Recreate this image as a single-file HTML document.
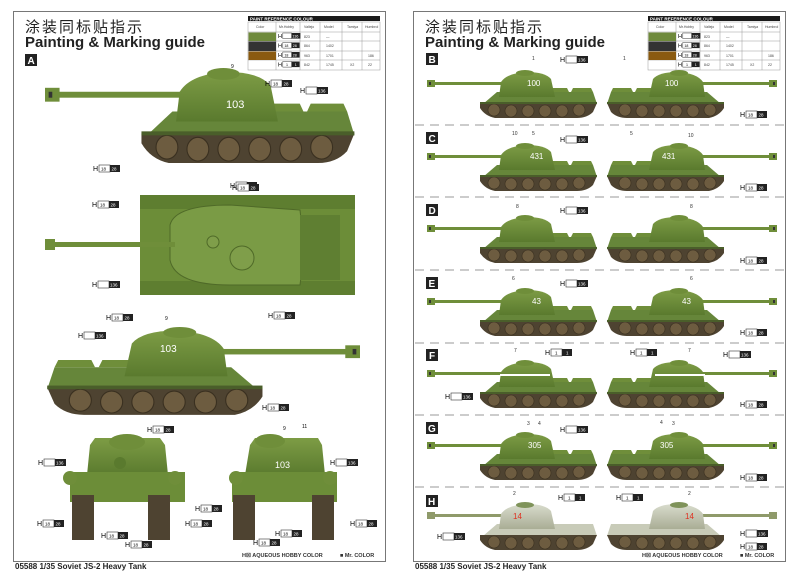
<!DOCTYPE html><html><head><meta charset="utf-8"><style>
html,body{margin:0;padding:0;background:#fff}
svg{display:block}
text{font-family:"Liberation Sans","Noto Sans CJK SC",sans-serif}
</style></head><body>
<svg width="800" height="573" viewBox="0 0 800 573" xmlns="http://www.w3.org/2000/svg">
<defs>
<linearGradient id="tg" x1="0" y1="0" x2="0" y2="1"><stop offset="0" stop-color="#7d9c45"/><stop offset="1" stop-color="#5a7a2e"/></linearGradient>
<linearGradient id="wg" x1="0" y1="0" x2="0" y2="1"><stop offset="0" stop-color="#d9dccd"/><stop offset="1" stop-color="#a9ad95"/></linearGradient>
<g id="tank">
<rect x="0" y="12" width="76" height="3" fill="#6f8e3a"/>
<rect x="0" y="10" width="8" height="7" fill="#6f8e3a"/>
<rect x="2" y="12" width="2" height="3" fill="#333"/>
<path d="M56,34 L70,22 L166,22 L170,34 Z" fill="#66863a"/>
<path d="M110,22 L112,18 L140,18 L142,22 Z M144,22 L146,18 L164,18 L166,22 Z" fill="#6f8e3a"/>
<path d="M72,27 L74,12 Q80,3 100,2 Q118,2 124,9 L128,27 Z" fill="url(#tg)"/>
<ellipse cx="98" cy="3" rx="9" ry="3" fill="#6f8e3a"/>
<path d="M53,33 L170,33 L166,42 Q160,48 150,48 L68,48 Q58,46 53,38 Z" fill="#4e4331"/>
<g fill="#6d5c40" stroke="#3a3020" stroke-width=".6"><circle cx="67" cy="40" r="6"/><circle cx="84" cy="41" r="6"/><circle cx="101" cy="41" r="6"/><circle cx="118" cy="41" r="6"/><circle cx="135" cy="41" r="6"/><circle cx="152" cy="40" r="6"/></g>
<rect x="53" y="32" width="117" height="2" fill="#4a5e2a"/>
</g>
<g id="wtank">
<rect x="0" y="12" width="76" height="3" fill="#8f9a6a"/>
<rect x="0" y="10" width="8" height="7" fill="#8f9a6a"/>
<path d="M56,34 L70,22 L166,22 L170,34 Z" fill="#c8cbb8"/>
<path d="M72,27 L74,12 Q80,3 100,2 Q118,2 124,9 L128,27 Z" fill="url(#wg)"/>
<ellipse cx="98" cy="3" rx="9" ry="3" fill="#7f935a"/>
<path d="M53,33 L170,33 L166,42 Q160,48 150,48 L68,48 Q58,46 53,38 Z" fill="#4e4331"/>
<g fill="#6d5c40" stroke="#3a3020" stroke-width=".6"><circle cx="67" cy="40" r="6"/><circle cx="84" cy="41" r="6"/><circle cx="101" cy="41" r="6"/><circle cx="118" cy="41" r="6"/><circle cx="135" cy="41" r="6"/><circle cx="152" cy="40" r="6"/></g>
</g>
<g id="c1828"><text x="0" y="6" font-size="7">H</text><rect x="6" y="0" width="11" height="7" fill="#fff" stroke="#333" stroke-width=".6"/><text x="8" y="5.5" font-size="4.5">18</text><rect x="17" y="0" width="10" height="7" fill="#222"/><text x="18.5" y="5.5" font-size="4.5" fill="#fff">28</text></g>
<g id="c136"><text x="0" y="6" font-size="7">H</text><rect x="6" y="0" width="11" height="7" fill="#fff" stroke="#333" stroke-width=".6"/><rect x="17" y="0" width="11" height="7" fill="#222"/><text x="18" y="5.5" font-size="4.5" fill="#fff">136</text></g>
<g id="c11"><text x="0" y="6" font-size="7">H</text><rect x="6" y="0" width="11" height="7" fill="#fff" stroke="#333" stroke-width=".6"/><text x="10" y="5.5" font-size="4.5">1</text><rect x="17" y="0" width="10" height="7" fill="#222"/><text x="21" y="5.5" font-size="4.5" fill="#fff">1</text></g>
<g id="ptable">
<rect x="0" y="0" width="132" height="5" fill="#1a1a1a"/>
<text x="2" y="4.3" font-size="4.5" fill="#fff" font-weight="bold">PAINT REFERENCE COLOUR</text>
<g stroke="#999" stroke-width=".5" fill="none"><rect x="0" y="6" width="132" height="48"/><line x1="28" y1="6" x2="28" y2="54"/><line x1="52" y1="6" x2="52" y2="54"/><line x1="72" y1="6" x2="72" y2="54"/><line x1="94" y1="6" x2="94" y2="54"/><line x1="114" y1="6" x2="114" y2="54"/><line x1="0" y1="16" x2="132" y2="16"/><line x1="0" y1="25" x2="132" y2="25"/><line x1="0" y1="35" x2="132" y2="35"/><line x1="0" y1="44" x2="132" y2="44"/></g>
<rect x="0.5" y="16.5" width="27.5" height="8.5" fill="#6f8a3c"/><rect x="0.5" y="25.5" width="27.5" height="9.5" fill="#333"/><rect x="0.5" y="35.5" width="27.5" height="8.5" fill="#8a5a10"/>
<g font-size="3.5" fill="#444"><text x="8" y="12">Color</text><text x="31" y="12">Mr.Hobby</text><text x="56" y="12">Vallejo</text><text x="76" y="12">Model</text><text x="99" y="12">Tamiya</text><text x="117" y="12">Humbrol</text>
<text x="56" y="22">823</text><text x="56" y="31">864</text><text x="56" y="41">963</text><text x="56" y="50">842</text>
<text x="78" y="22">—</text><text x="78" y="31">1402</text><text x="78" y="41">1701</text><text x="78" y="50">1745</text>
<text x="102" y="50">X2</text><text x="120" y="41">186</text><text x="120" y="50">22</text></g>
<use href="#c136" transform="translate(30,17) scale(.8)"/><use href="#c1828" transform="translate(30,26.5) scale(.8)"/><use href="#c1828" transform="translate(30,36) scale(.8)"/><use href="#c11" transform="translate(30,45.5) scale(.8)"/>
</g>
</defs>

<rect x="13.5" y="11.5" width="372" height="550" fill="none" stroke="#777" stroke-width="1"/>
<rect x="413.5" y="11.5" width="372" height="550" fill="none" stroke="#777" stroke-width="1"/>

<text x="25" y="32" font-size="15" fill="#222" font-family="Noto Sans CJK SC,sans-serif" letter-spacing="2">涂装同标贴指示</text>
<text x="25" y="47" font-size="15" font-weight="bold" fill="#222">Painting &amp; Marking guide</text>
<text x="425" y="32" font-size="15" fill="#222" font-family="Noto Sans CJK SC,sans-serif" letter-spacing="2">涂装同标贴指示</text>
<text x="425" y="47" font-size="15" font-weight="bold" fill="#222">Painting &amp; Marking guide</text>
<use href="#ptable" transform="translate(248,16)"/>
<use href="#ptable" transform="translate(648,16)"/>

<rect x="25" y="54" width="12" height="12" fill="#222"/><text x="27.5" y="64" font-size="10" fill="#fff" font-weight="bold">A</text>
<use href="#tank" transform="translate(45,68) scale(1.82,1.98)"/>
<text x="226" y="108" font-size="11" fill="#fff">103</text>
<text x="231" y="68" font-size="5">9</text>
<use href="#c1828" transform="translate(265,80)"/><use href="#c136" transform="translate(300,87)"/>
<use href="#c1828" transform="translate(93,165)"/><use href="#c1828" transform="translate(230,182)"/>
<!-- top view -->
<rect x="140" y="195" width="215" height="100" fill="#6c8d38"/>
<rect x="140" y="195" width="215" height="14" fill="#5e7e30"/><rect x="140" y="281" width="215" height="14" fill="#5e7e30"/>
<path d="M170,225 Q175,205 230,205 L300,210 Q305,250 300,285 L230,285 Q175,285 170,260 Z" fill="#7a9b45" stroke="#4f6a28" stroke-width="1"/>
<rect x="300" y="215" width="40" height="65" fill="#5f7f32"/>
<circle cx="242" cy="258" r="12" fill="#7f9e4a" stroke="#4f6a28"/><circle cx="213" cy="242" r="6" fill="#7f9e4a" stroke="#4f6a28"/>
<rect x="45" y="242" width="130" height="5" fill="#6f8e3a"/><rect x="45" y="239" width="10" height="11" fill="#6f8e3a"/>
<use href="#c1828" transform="translate(92,201)"/><use href="#c136" transform="translate(92,281)"/>
<use href="#c1828" transform="translate(232,184)"/><use href="#c1828" transform="translate(268,312)"/>
<!-- side view right -->
<use href="#tank" transform="translate(360,327) scale(-1.84,1.83)"/>
<text x="160" y="352" font-size="10" fill="#fff">103</text><text x="165" y="320" font-size="5">9</text>
<use href="#c1828" transform="translate(106,314)"/><use href="#c136" transform="translate(78,332)"/>
<use href="#c1828" transform="translate(262,404)"/><use href="#c1828" transform="translate(147,426)"/>
<!-- front view -->
<path d="M90,445 L95,438 L160,438 L165,445 L168,475 L87,475 Z" fill="url(#tg)"/>
<ellipse cx="127" cy="442" rx="18" ry="8" fill="#6f8e3a"/>
<rect x="70" y="472" width="115" height="30" fill="#6c8d38"/>
<circle cx="70" cy="478" r="7" fill="#6f8e3a"/><circle cx="175" cy="478" r="7" fill="#6f8e3a"/>
<rect x="72" y="495" width="22" height="45" fill="#4e4331"/><rect x="148" y="495" width="22" height="45" fill="#4e4331"/>
<circle cx="120" cy="463" r="6" fill="#5a7a2e"/>
<!-- rear view -->
<path d="M250,445 L255,438 L318,438 L322,445 L325,475 L245,475 Z" fill="url(#tg)"/>
<ellipse cx="270" cy="441" rx="15" ry="7" fill="#6f8e3a"/>
<rect x="232" y="472" width="105" height="30" fill="#6c8d38"/>
<circle cx="236" cy="478" r="7" fill="#6f8e3a"/><circle cx="330" cy="478" r="7" fill="#6f8e3a"/>
<rect x="233" y="495" width="22" height="45" fill="#4e4331"/><rect x="312" y="495" width="22" height="45" fill="#4e4331"/>
<text x="275" y="468" font-size="9" fill="#fff">103</text>
<text x="283" y="430" font-size="5">9</text><text x="302" y="428" font-size="5">11</text>
<use href="#c136" transform="translate(38,459)"/><use href="#c1828" transform="translate(37,520)"/>
<use href="#c1828" transform="translate(101,532)"/><use href="#c1828" transform="translate(125,541)"/><use href="#c1828" transform="translate(185,520)"/>
<use href="#c1828" transform="translate(195,505)"/><use href="#c136" transform="translate(330,459)"/><use href="#c1828" transform="translate(275,530)"/>
<use href="#c1828" transform="translate(253,539)"/><use href="#c1828" transform="translate(350,520)"/>

<g stroke="#999" stroke-width="1" stroke-dasharray="9,6">
<line x1="415" y1="125" x2="785" y2="125"/><line x1="415" y1="197" x2="785" y2="197"/><line x1="415" y1="270" x2="785" y2="270"/><line x1="415" y1="343" x2="785" y2="343"/><line x1="415" y1="415" x2="785" y2="415"/><line x1="415" y1="487" x2="785" y2="487"/>
</g>
<g font-size="10" font-weight="bold" fill="#fff">
<rect x="426" y="53" width="12" height="12" fill="#222"/><text x="428.5" y="63">B</text>
<rect x="426" y="132" width="12" height="12" fill="#222"/><text x="428.5" y="142">C</text>
<rect x="426" y="204" width="12" height="12" fill="#222"/><text x="428.5" y="214">D</text>
<rect x="426" y="277" width="12" height="12" fill="#222"/><text x="428.5" y="287">E</text>
<rect x="426" y="349" width="12" height="12" fill="#222"/><text x="429" y="359">F</text>
<rect x="426" y="422" width="12" height="12" fill="#222"/><text x="428" y="432">G</text>
<rect x="426" y="495" width="12" height="12" fill="#222"/><text x="428" y="505">H</text>
</g>
<g>
<use href="#tank" transform="translate(427,70)"/><use href="#tank" transform="translate(777,70) scale(-1,1)"/>
<use href="#tank" transform="translate(427,143)"/><use href="#tank" transform="translate(777,143) scale(-1,1)"/>
<use href="#tank" transform="translate(427,215)"/><use href="#tank" transform="translate(777,215) scale(-1,1)"/>
<use href="#tank" transform="translate(427,288)"/><use href="#tank" transform="translate(777,288) scale(-1,1)"/>
<use href="#tank" transform="translate(427,360)"/><use href="#tank" transform="translate(777,360) scale(-1,1)"/>
<use href="#tank" transform="translate(427,432)"/><use href="#tank" transform="translate(777,432) scale(-1,1)"/>
<use href="#wtank" transform="translate(427,502)"/><use href="#wtank" transform="translate(777,502) scale(-1,1)"/>
</g>
<g font-size="8" fill="#fff"><text x="527" y="86">100</text><text x="665" y="86">100</text><text x="530" y="159">431</text><text x="662" y="159">431</text>
<text x="532" y="304">43</text><text x="682" y="304">43</text><text x="528" y="448">305</text><text x="660" y="448">305</text>
<text x="513" y="519" fill="#e03020">14</text><text x="685" y="519" fill="#e03020">14</text></g>
<rect x="500" y="374" width="50" height="2" fill="#fff"/><rect x="655" y="374" width="50" height="2" fill="#fff"/>
<g font-size="5" fill="#333"><text x="532" y="60">1</text><text x="623" y="60">1</text><text x="512" y="135">10</text><text x="532" y="135">5</text><text x="630" y="135">5</text><text x="688" y="137">10</text>
<text x="516" y="208">8</text><text x="690" y="208">8</text><text x="512" y="280">6</text><text x="690" y="280">6</text><text x="514" y="352">7</text><text x="688" y="352">7</text>
<text x="527" y="425">3</text><text x="538" y="425">4</text><text x="660" y="424">4</text><text x="672" y="425">3</text><text x="513" y="495">2</text><text x="688" y="495">2</text></g>
<g>
<use href="#c136" transform="translate(560,56)"/><use href="#c1828" transform="translate(740,111)"/>
<use href="#c136" transform="translate(560,136)"/><use href="#c1828" transform="translate(740,184)"/>
<use href="#c136" transform="translate(560,207)"/><use href="#c1828" transform="translate(740,257)"/>
<use href="#c136" transform="translate(560,280)"/><use href="#c1828" transform="translate(740,329)"/>
<use href="#c11" transform="translate(545,349)"/><use href="#c11" transform="translate(630,349)"/><use href="#c136" transform="translate(723,351)"/><use href="#c136" transform="translate(445,393)"/><use href="#c1828" transform="translate(740,401)"/>
<use href="#c136" transform="translate(560,426)"/><use href="#c1828" transform="translate(740,474)"/>
<use href="#c11" transform="translate(558,494)"/><use href="#c11" transform="translate(616,494)"/><use href="#c136" transform="translate(437,533)"/><use href="#c136" transform="translate(740,530)"/><use href="#c1828" transform="translate(740,543)"/>
</g>
<text x="642" y="557" font-size="5.5" font-weight="bold" fill="#333">H☒ AQUEOUS HOBBY COLOR</text>
<text x="740" y="557" font-size="5.5" font-weight="bold" fill="#333">■ Mr. COLOR</text>
<text x="15" y="569" font-size="8" font-weight="bold" fill="#222">05588 1/35  Soviet JS-2 Heavy Tank</text>
<text x="415" y="569" font-size="8" font-weight="bold" fill="#222">05588 1/35  Soviet JS-2 Heavy Tank</text>
<text x="242" y="557" font-size="5.5" font-weight="bold" fill="#333">H☒ AQUEOUS HOBBY COLOR</text>
<text x="340" y="557" font-size="5.5" font-weight="bold" fill="#333">■ Mr. COLOR</text>
</svg>
</body></html>
